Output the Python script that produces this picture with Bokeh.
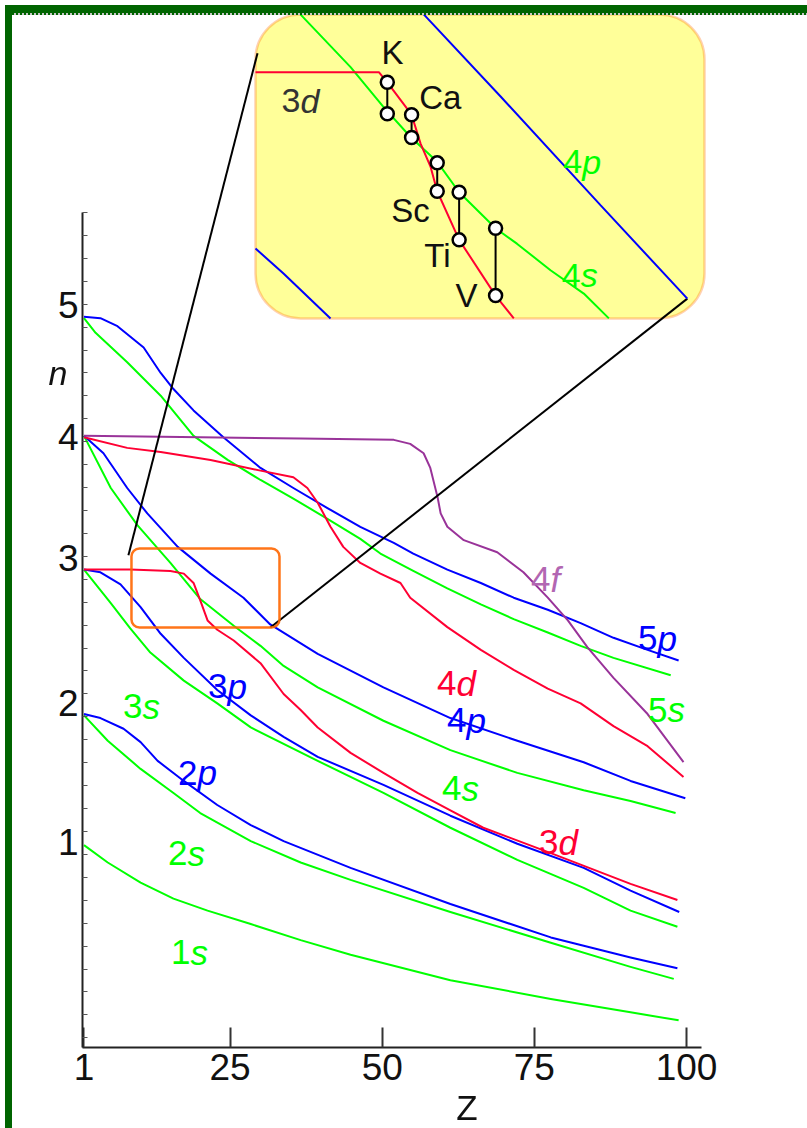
import numpy as np
from bokeh.plotting import figure
from bokeh.models import (FixedTicker, BoxAnnotation, ColumnDataSource,
                          Range1d, Div, CustomJSTickFormatter)
from bokeh.layouts import column
from bokeh.core.properties import value
from bokeh.embed import file_html
from bokeh.resources import INLINE

# ---------------- data: orbital levels (Z, position on the n scale) ----------------
z_1s = [1, 4.9, 10.3, 15.7, 21.3, 28.4, 36.6, 44.8, 61.2, 77.7, 90.8, 98.7]
n_1s = [0.98, 0.85, 0.70, 0.58, 0.49, 0.39, 0.27, 0.16, -0.03, -0.17, -0.27, -0.33]

z_2s = [1, 4.9, 10.3, 15.7, 20.1, 28.4, 36.6, 44.8, 61.2, 77.7, 90.8, 97.9]
n_2s = [1.95, 1.76, 1.55, 1.37, 1.22, 1.01, 0.85, 0.72, 0.48, 0.25, 0.07, -0.02]

z_2p = [1, 3.7, 7.5, 10.3, 13.1, 17.4, 22.9, 28.4, 33.8, 44.8, 61.2, 77.7, 90.8, 98.5]
n_2p = [1.96, 1.93, 1.85, 1.75, 1.61, 1.46, 1.28, 1.13, 1.01, 0.81, 0.54, 0.29, 0.14, 0.06]

z_3s = [1, 5.4, 8.6, 11.9, 17.4, 22.9, 28.4, 39.4, 50.2, 61.2, 72.2, 83.1, 90.8, 98.5]
n_3s = [3.04, 2.79, 2.60, 2.42, 2.21, 2.04, 1.86, 1.61, 1.37, 1.11, 0.87, 0.66, 0.49, 0.37]

z_3p = [1, 3.7, 7.0, 10.3, 13.6, 17.4, 22.9, 28.4, 33.8, 39.4, 50.2, 61.2, 72.2, 83.1, 90.8, 98.8]
n_3p = [3.04, 3.02, 2.93, 2.76, 2.56, 2.38, 2.14, 1.95, 1.79, 1.64, 1.43, 1.20, 0.99, 0.81, 0.64, 0.48]

z_3d = [1, 8.6, 15.2, 17.4, 19.0, 20.1, 21.3, 22.9, 25.6, 30.0, 33.8, 36.6, 39.4, 44.8,
        50.2, 55.8, 61.2, 66.6, 77.7, 90.8, 98.5]
n_3d = [3.04, 3.04, 3.03, 3.01, 2.94, 2.81, 2.66, 2.59, 2.51, 2.34, 2.11, 1.99, 1.86, 1.67,
        1.52, 1.37, 1.24, 1.11, 0.92, 0.69, 0.57]

z_4s = [1, 5.4, 9.8, 15.2, 20.1, 25.6, 30.0, 33.8, 39.4, 50.2, 61.2, 72.2, 83.1, 90.8, 98.2]
n_4s = [4.04, 3.65, 3.37, 3.09, 2.82, 2.62, 2.47, 2.32, 2.16, 1.91, 1.69, 1.52, 1.39, 1.31, 1.22]

z_4p = [1, 4.2, 8.1, 11.4, 16.4, 21.8, 27.2, 31.6, 39.4, 50.2, 61.2, 72.2, 83.1, 90.8, 99.8]
n_4p = [4.04, 3.91, 3.65, 3.46, 3.21, 3.01, 2.83, 2.63, 2.41, 2.16, 1.93, 1.76, 1.60, 1.46, 1.33]

z_4d = [1, 8.1, 13.6, 21.8, 30.0, 35.4, 37.7, 39.4, 41.5, 43.6, 46.4, 49.7, 53.0, 54.6,
        60.7, 66.2, 71.6, 77.2, 82.6, 88.0, 93.6, 99.5]
n_4d = [4.03, 3.95, 3.92, 3.86, 3.78, 3.73, 3.65, 3.54, 3.36, 3.21, 3.09, 3.01, 2.94, 2.83,
        2.61, 2.44, 2.29, 2.15, 2.04, 1.87, 1.72, 1.49]

z_4f = [1, 20.1, 36.6, 51.9, 54.6, 56.8, 57.9, 59.1, 59.6, 60.7, 63.4, 68.9, 73.2, 77.2,
        80.5, 83.7, 88.0, 93.6, 99.5]
n_4f = [4.04, 4.03, 4.02, 4.01, 3.98, 3.91, 3.80, 3.58, 3.46, 3.36, 3.26, 3.17, 3.02, 2.83,
        2.66, 2.46, 2.23, 1.96, 1.60]

z_5p = [1, 3.7, 6.5, 10.8, 13.6, 15.7, 19.0, 23.9, 30.0, 35.4, 41.0, 46.4, 51.9, 55.1,
        60.7, 66.2, 71.6, 77.2, 82.6, 88.0, 93.6, 98.7]
n_5p = [4.93, 4.92, 4.86, 4.70, 4.51, 4.39, 4.23, 4.03, 3.80, 3.65, 3.50, 3.36, 3.24, 3.16,
        3.04, 2.94, 2.83, 2.74, 2.64, 2.53, 2.44, 2.36]

z_5s = [1, 2.9, 8.1, 13.6, 19.0, 24.6, 30.0, 35.4, 41.0, 46.4, 49.7, 55.1, 60.7, 66.2,
        71.6, 77.2, 82.6, 88.0, 97.4]
n_5s = [4.92, 4.81, 4.59, 4.34, 4.04, 3.86, 3.71, 3.57, 3.42, 3.27, 3.16, 3.03, 2.90, 2.78,
        2.67, 2.57, 2.47, 2.38, 2.25]

# curve labels
label_text = ["1s", "2s", "2p", "3s", "3p", "3d", "4s", "4p", "4d", "4f", "5p", "5s"]
label_z = [18.50, 18.01, 19.65, 10.61, 24.58, 78.97, 63.02, 63.84, 62.20, 77.65, 95.23, 96.87]
label_n = [0.178, 0.918, 1.523, 2.017, 2.166, 1.000, 1.404, 1.912, 2.189, 2.966, 2.525, 1.994]

# axes
x_ticks = [1, 25, 50, 75, 100]
y_tick_pos = [1.0, 2.04, 3.13, 4.03, 5.02]   # where the labels 1..5 sit on the scale

# ---------------- inset: magnified 3d / 4s crossing (K .. V) ----------------
ins_4s_z = [15.70, 17.60, 18.85, 19.87, 20.88, 21.71, 23.09, 23.91, 25.17, 26.43, 27.38]
ins_4s_n = [3.20, 3.096, 3.017, 2.958, 2.909, 2.849, 2.778, 2.747, 2.695, 2.649, 2.60]
ins_3d_z = [14.0, 18.67, 18.99, 19.91, 20.25, 20.63, 20.88, 21.71, 23.09, 23.78]
ins_3d_n = [3.086, 3.086, 3.066, 3.002, 2.945, 2.899, 2.851, 2.755, 2.645, 2.60]
ins_4p_z = [20.37, 23.28, 27.07, 30.35]
ins_4p_n = [3.20, 3.038, 2.823, 2.639]
ins_3p_z = [14.0, 15.07, 16.84]
ins_3p_n = [2.738, 2.688, 2.60]

elements = ["K", "Ca", "Sc", "Ti", "V"]
elem_z = [18.99, 19.91, 20.88, 21.71, 23.09]
elem_3d = [3.066, 3.002, 2.851, 2.755, 2.645]
elem_4s = [3.004, 2.957, 2.907, 2.849, 2.778]
elem_label_z = [19.19, 21.00, 19.87, 20.89, 21.99]
elem_label_n = [3.125, 3.036, 2.813, 2.724, 2.645]

ins_label_text = ["3d", "4p", "4s"]
ins_label_z = [15.70, 26.37, 26.31]
ins_label_n = [3.030, 2.909, 2.685]

# ---------------- styling ----------------
C_S, C_P, C_D, C_F = "#00FF00", "#0000FF", "#FF0033", "#993399"
LABEL_COLORS = {"s": C_S, "p": C_P, "d": C_D, "f": "#B266B2"}
FONT = value("Liberation Sans")

p = figure(width=807, height=1128, output_backend="svg", toolbar_location=None,
           x_range=Range1d(0.754, 105.58), y_range=Range1d(-0.533, 7.220),
           min_border_left=82, min_border_right=87, min_border_top=10, min_border_bottom=81)
p.outline_line_color = None
p.xgrid.visible = False
p.ygrid.visible = False
p.background_fill_color = "white"
p.border_fill_color = "white"

# x axis
xa = p.xaxis[0]
xa.ticker = FixedTicker(ticks=x_ticks, minor_ticks=[])
xa.bounds = (0.754, 102.46)
xa.axis_line_width = 2
xa.axis_line_color = "#222222"
xa.major_tick_in = 20
xa.major_tick_out = 0
xa.major_tick_line_width = 2
xa.major_tick_line_color = "#333333"
xa.minor_tick_line_color = None
xa.major_label_text_font = "Liberation Sans"
xa.major_label_text_font_size = "37px"
xa.major_label_text_color = "#111111"
xa.major_label_standoff = 6

# y axis
ya = p.yaxis[0]
minor_y = [5.710 - k * 0.1714 for k in range(37)]
ya.ticker = FixedTicker(ticks=y_tick_pos, minor_ticks=minor_y)
ya.formatter = CustomJSTickFormatter(code="return Math.round(tick).toString();")
ya.bounds = (-0.533, 5.710)
ya.axis_line_width = 2
ya.axis_line_color = "#222222"
ya.major_tick_line_color = None
ya.major_tick_in = 0
ya.major_tick_out = 0
ya.minor_tick_in = 5
ya.minor_tick_out = 0
ya.minor_tick_line_color = "#555555"
ya.minor_tick_line_width = 1
ya.major_label_text_font = "Liberation Sans"
ya.major_label_text_font_size = "37px"
ya.major_label_text_color = "#111111"
ya.major_label_standoff = 4

# main curves
curves = [(z_1s, n_1s, C_S), (z_2s, n_2s, C_S), (z_3s, n_3s, C_S), (z_4s, n_4s, C_S),
          (z_5s, n_5s, C_S), (z_2p, n_2p, C_P), (z_3p, n_3p, C_P), (z_4p, n_4p, C_P),
          (z_5p, n_5p, C_P), (z_3d, n_3d, C_D), (z_4d, n_4d, C_D), (z_4f, n_4f, C_F)]
for zs, ns, c in curves:
    p.line(zs, ns, line_color=c, line_width=2, line_join="round")

# curve labels: upright digit + italic letter
lab_src = ColumnDataSource(dict(
    x=label_z, y=label_n,
    num=[t[0] for t in label_text], let=[t[1] for t in label_text],
    color=[LABEL_COLORS[t[1]] for t in label_text]))
p.text(x="x", y="y", text="num", text_color="color", source=lab_src, text_align="right",
       text_baseline="alphabetic", text_font=FONT, text_font_size="35px")
p.text(x="x", y="y", text="let", text_color="color", source=lab_src, text_align="left",
       text_baseline="alphabetic", text_font=FONT, text_font_size="35px",
       text_font_style="italic")

# ---------------- inset geometry ----------------
IN_Z0, IN_Z1, IN_N0, IN_N1 = 14.0, 31.0, 2.60, 3.20
BIG_L, BIG_R, BIG_B, BIG_T = 29.18, 102.95, 4.918, 7.191
SM_L, SM_R, SM_B, SM_T = 8.80, 33.12, 2.607, 3.198


def ix(z):
    return BIG_L + (np.asarray(z, dtype=float) - IN_Z0) / (IN_Z1 - IN_Z0) * (BIG_R - BIG_L)


def iy(n):
    return BIG_B + (np.asarray(n, dtype=float) - IN_N0) / (IN_N1 - IN_N0) * (BIG_T - BIG_B)


big_box = BoxAnnotation(left=BIG_L, right=BIG_R, bottom=BIG_B, top=BIG_T,
                        fill_color="#FFFF99", fill_alpha=1.0, line_color="#FF6600",
                        line_width=2.5, border_radius=45, level="underlay")
p.add_layout(big_box)
small_box = BoxAnnotation(left=SM_L, right=SM_R, bottom=SM_B, top=SM_T,
                          fill_alpha=0.0, line_color="#FF6600", line_alpha=0.9,
                          line_width=2.5, border_radius=8)
p.add_layout(small_box)

# connector lines from the small box to the inset
end2_x = float(ix(ins_4p_z[-1]))
end2_y = float(iy(ins_4p_n[-1]))
p.line([SM_L - 0.5, BIG_L + 0.33], [SM_T - 0.05, BIG_T - 0.29], line_color="black", line_width=2)
p.line([SM_R - 1.5, end2_x], [SM_B, end2_y], line_color="black", line_width=2)

# inset curves
p.line(ix(ins_3p_z), iy(ins_3p_n), line_color=C_P, line_width=2)
p.line(ix(ins_4p_z), iy(ins_4p_n), line_color=C_P, line_width=2)
p.line(ix(ins_4s_z), iy(ins_4s_n), line_color=C_S, line_width=2)
p.line(ix(ins_3d_z), iy(ins_3d_n), line_color=C_D, line_width=2)

# element markers
p.segment(x0=ix(elem_z), y0=iy(elem_4s), x1=ix(elem_z), y1=iy(elem_3d),
          line_color="black", line_width=2)
p.scatter(x=ix(elem_z + elem_z), y=iy(elem_4s + elem_3d), size=13, marker="circle",
          fill_color="white", line_color="black", line_width=2.5)
p.text(x=ix(elem_label_z), y=iy(elem_label_n), text=elements, text_align="center",
       text_baseline="middle", text_font=FONT, text_font_size="33px", text_color="#111111")

ins_colors = ["#333333", C_S, C_S]
ins_src = ColumnDataSource(dict(
    x=ix(ins_label_z), y=iy(ins_label_n),
    num=[t[0] for t in ins_label_text], let=[t[1] for t in ins_label_text],
    color=ins_colors))
p.text(x="x", y="y", text="num", text_color="color", source=ins_src, text_align="right",
       text_baseline="alphabetic", text_font=FONT, text_font_size="34px")
p.text(x="x", y="y", text="let", text_color="color", source=ins_src, text_align="left",
       text_baseline="alphabetic", text_font=FONT, text_font_size="34px",
       text_font_style="italic")

# axis titles (placed outside the plot frame)
n_title = Div(text="n", styles={"position": "fixed", "left": "38px", "top": "351px",
                                "width": "30px", "text-align": "center",
                                "font-family": "Liberation Sans", "font-size": "34px",
                                "font-style": "italic", "line-height": "1", "color": "#111111",
                                "z-index": "10"})
z_title = Div(text="Z", styles={"position": "fixed", "left": "442px", "top": "1085px",
                                "width": "40px", "text-align": "center",
                                "font-family": "Liberation Sans", "font-size": "35px",
                                "line-height": "1", "color": "#111111", "z-index": "10"})

# dark green frame strips of the original page
top_bar = Div(text="", styles={"position": "fixed", "left": "0px", "top": "0px",
                               "width": "807px", "height": "10px",
                               "background-color": "#006400",
                               "border-bottom": "2px dotted #c8c8c8", "z-index": "10"})
left_bar = Div(text="", styles={"position": "fixed", "left": "0px", "top": "0px",
                                "width": "7px", "height": "1128px",
                                "background-color": "#006400", "z-index": "11"})

layout = column(top_bar, left_bar, n_title, z_title, p)
open("out.html", "w").write(file_html(layout, INLINE))
